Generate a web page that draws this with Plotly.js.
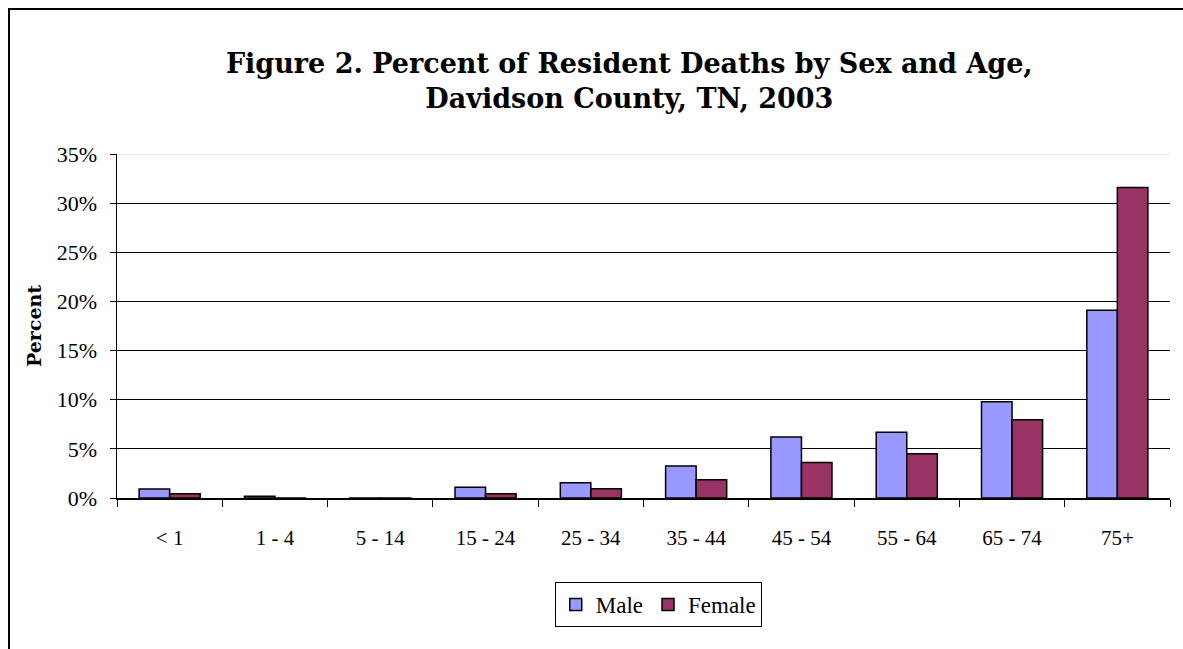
<!DOCTYPE html>
<html>
<head>
<meta charset="utf-8">
<script src="https://cdn.plot.ly/plotly-3.0.1.min.js"></script>
<style>
  html, body { margin: 0; padding: 0; background: #fff; }
  #chart { position: absolute; left: 0; top: 0; width: 1183px; height: 649px; }
  #frame { position: absolute; left: 8px; top: 8px; width: 1300px; height: 800px;
           border-top: 2px solid #000; border-left: 2px solid #000; pointer-events: none; }
</style>
</head>
<body>
<div id="chart"></div>
<div id="frame"></div>
<script>
const categories = ["< 1", "1 - 4", "5 - 14", "15 - 24", "25 - 34", "35 - 44", "45 - 54", "55 - 64", "65 - 74", "75+"];
const maleValues = [0.92, 0.18, 0.01, 1.1, 1.55, 3.25, 6.2, 6.7, 9.8, 19.1];
const femaleValues = [0.42, 0.01, 0.01, 0.42, 0.95, 1.85, 3.6, 4.5, 7.95, 31.6];
const yTickVals = [0, 5, 10, 15, 20, 25, 30, 35];
const yTickText = ["0%", "5%", "10%", "15%", "20%", "25%", "30%", "35%"];

const serif = "Liberation Serif";
const boldSerif = "DejaVu Serif";

const traces = [
  { type: "bar", name: "Male", x: categories, y: maleValues,
    marker: { color: "#9999FF", line: { color: "#000", width: 1.5 } } },
  { type: "bar", name: "Female", x: categories, y: femaleValues,
    marker: { color: "#993366", line: { color: "#000", width: 1.5 } } }
];

const layout = {
  width: 1183, height: 649,
  paper_bgcolor: "#fff", plot_bgcolor: "#fff",
  margin: { l: 117, r: 13, t: 154, b: 151 },
  barmode: "group", bargap: 0.42, bargroupgap: 0,
  showlegend: true,
  title: {
    text: "<b>Figure 2. Percent of Resident Deaths by Sex and Age,<br>Davidson County, TN, 2003</b>",
    font: { family: boldSerif, size: 27, color: "#000" },
    x: 0.532, xanchor: "center", xref: "container",
    y: 0.887, yanchor: "top", yref: "container"
  },
  xaxis: {
    type: "category",
    tickson: "boundaries",
    ticks: "outside", ticklen: 7, tickcolor: "#000", tickwidth: 1,
    ticklabelstandoff: 20,
    showline: true, linecolor: "#000", linewidth: 1.5,
    showgrid: false,
    tickfont: { family: serif, size: 21, color: "#000" },
    fixedrange: true
  },
  yaxis: {
    range: [0, 35],
    tickvals: yTickVals, ticktext: yTickText,
    ticks: "outside", ticklen: 6, tickcolor: "#000", tickwidth: 1,
    ticklabelstandoff: 8,
    showline: true, linecolor: "#000", linewidth: 1.5,
    showgrid: true, gridcolor: "#000", gridwidth: 1,
    zeroline: false,
    tickfont: { family: serif, size: 22, color: "#000" },
    title: { text: "<b>Percent</b>", font: { family: boldSerif, size: 19, color: "#000" }, standoff: 10 },
    fixedrange: true
  },
  legend: {
    orientation: "h",
    x: 0.514, xanchor: "center", y: -0.244, yanchor: "top",
    bordercolor: "#000", borderwidth: 1, bgcolor: "#fff",
    font: { family: serif, size: 23, color: "#000" },
    itemwidth: 30
  },
  shapes: [
    { type: "line", xref: "paper", yref: "y", x0: 0, x1: 1, y0: 35, y1: 35,
      line: { color: "#e6e6e6", width: 1.5 }, layer: "above" }
  ]
};

Plotly.newPlot("chart", traces, layout, { displayModeBar: false, staticPlot: true });
</script>
</body>
</html>
